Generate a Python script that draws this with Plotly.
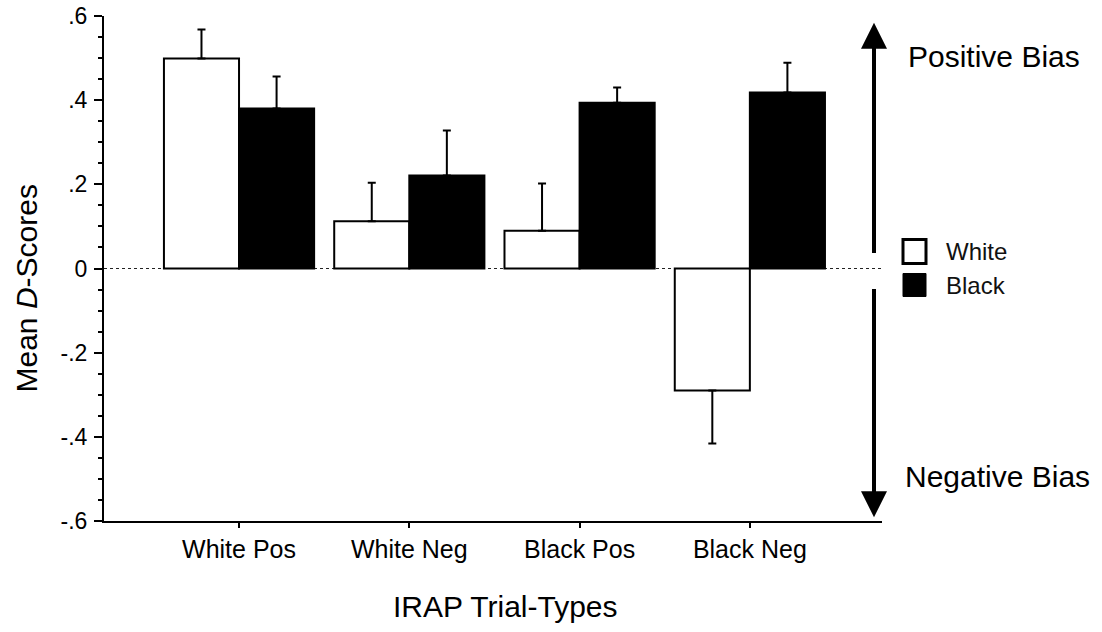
import plotly.graph_objects as go

categories = ["White Pos", "White Neg", "Black Pos", "Black Neg"]
series_names = ["White", "Black"]
white_vals = [0.499, 0.112, 0.090, -0.290]
white_err_up = [0.069, 0.092, 0.112, 0.0]
white_err_down = [0.0, 0.0, 0.0, 0.126]
black_vals = [0.380, 0.221, 0.394, 0.418]
black_err_up = [0.076, 0.107, 0.036, 0.071]
black_err_down = [0.0, 0.0, 0.0, 0.0]
ytick_vals = [0.6, 0.4, 0.2, 0.0, -0.2, -0.4, -0.6]
ytick_text = [".6", ".4", ".2", "0", "-.2", "-.4", "-.6"]
bias_labels = ["Positive Bias", "Negative Bias"]

FONT = "Liberation Sans, Arial, sans-serif"
xpos = list(range(len(categories)))

# plot area in page pixels: x 104..882, y 16..521
PW = 778.0


def px(xpage):
    return (xpage - 104) / PW


def py(ypage):
    return (269 - ypage) / 421.0


fig = go.Figure()
fig.add_trace(go.Bar(
    x=xpos, y=white_vals, name=series_names[0], showlegend=False,
    marker=dict(color="white", line=dict(color="black", width=2)),
    error_y=dict(type="data", symmetric=False, array=white_err_up,
                 arrayminus=white_err_down, color="black", thickness=2, width=4),
))
fig.add_trace(go.Bar(
    x=xpos, y=black_vals, name=series_names[1], showlegend=False,
    marker=dict(color="black", line=dict(color="black", width=2)),
    error_y=dict(type="data", symmetric=False, array=black_err_up,
                 arrayminus=black_err_down, color="black", thickness=2, width=4),
))

# dotted zero line
fig.add_shape(type="line", xref="paper", yref="y", x0=0, x1=1, y0=0, y1=0,
              line=dict(color="#222", width=1.2, dash="dot"), layer="below")

arrow_x = 3.729
fig.add_annotation(x=arrow_x, y=0.584, ax=arrow_x, ay=0.033, xref="x", yref="y",
                   axref="x", ayref="y", showarrow=True, arrowhead=2,
                   arrowsize=1.3, arrowwidth=4, arrowcolor="black", text="")
fig.add_annotation(x=arrow_x, y=-0.591, ax=arrow_x, ay=-0.045, xref="x", yref="y",
                   axref="x", ayref="y", showarrow=True, arrowhead=2,
                   arrowsize=1.3, arrowwidth=4, arrowcolor="black", text="")
fig.add_annotation(x=px(906), y=py(57), xref="paper", yref="y", text=bias_labels[0],
                   showarrow=False, xanchor="left", yanchor="middle",
                   font=dict(family=FONT, size=30, color="black"))
fig.add_annotation(x=px(903), y=py(477), xref="paper", yref="y", text=bias_labels[1],
                   showarrow=False, xanchor="left", yanchor="middle",
                   font=dict(family=FONT, size=30, color="black"))

# legend (keys + labels)
fig.add_shape(type="rect", xref="paper", yref="y", x0=px(903), x1=px(926),
              y0=py(264), y1=py(240),
              fillcolor="white", line=dict(color="black", width=3))
fig.add_shape(type="rect", xref="paper", yref="y", x0=px(903), x1=px(926),
              y0=py(297), y1=py(274),
              fillcolor="black", line=dict(color="black", width=1))
fig.add_annotation(x=px(944), y=py(252), xref="paper", yref="y",
                   text=series_names[0], showarrow=False, xanchor="left", yanchor="middle",
                   font=dict(family=FONT, size=24, color="#111"))
fig.add_annotation(x=px(944), y=py(286), xref="paper", yref="y",
                   text=series_names[1], showarrow=False, xanchor="left", yanchor="middle",
                   font=dict(family=FONT, size=24, color="#111"))

# y axis title
fig.add_annotation(x=px(26), y=py(289), xref="paper", yref="y",
                   text="Mean <i>D</i>-Scores", showarrow=False, textangle=-90,
                   xanchor="center", yanchor="middle",
                   font=dict(family=FONT, size=30, color="black"))
# x axis title
fig.add_annotation(x=px(505), y=0, xref="paper", yref="paper",
                   text="IRAP Trial-Types", showarrow=False, xanchor="center", yanchor="middle",
                   yshift=-(606 - 521),
                   font=dict(family=FONT, size=30, color="black"))

fig.update_layout(
    width=1102, height=632,
    margin=dict(l=104, r=220, t=16, b=111, autoexpand=False),
    plot_bgcolor="white", paper_bgcolor="white",
    barmode="group", bargap=0.118, bargroupgap=0,
    font=dict(family=FONT, color="black"),
    showlegend=False,
)
fig.update_xaxes(
    range=[-0.793, 3.776], tickvals=xpos, ticktext=categories,
    showline=True, linecolor="black", linewidth=2, mirror=False,
    ticks="outside", ticklen=5, tickwidth=1.5, tickcolor="black",
    showgrid=False, zeroline=False, ticklabelstandoff=0, automargin=False,
    tickfont=dict(family=FONT, size=25, color="black"),
)
fig.update_yaxes(
    range=[-0.6, 0.6], tickvals=ytick_vals, ticktext=ytick_text,
    showline=True, linecolor="black", linewidth=2, automargin=False,
    ticks="outside", ticklen=8, tickwidth=1.5, tickcolor="black",
    minor=dict(dtick=0.05, ticklen=4, tickwidth=1.5, tickcolor="black", ticks="outside"),
    showgrid=False, zeroline=False, ticklabelstandoff=2, ticklabeloverflow="allow",
    tickfont=dict(family=FONT, size=23, color="black"),
)

fig.write_html("out.html", config={"displayModeBar": False},
               post_script="document.body.style.margin='0';document.body.style.overflow='hidden';")
